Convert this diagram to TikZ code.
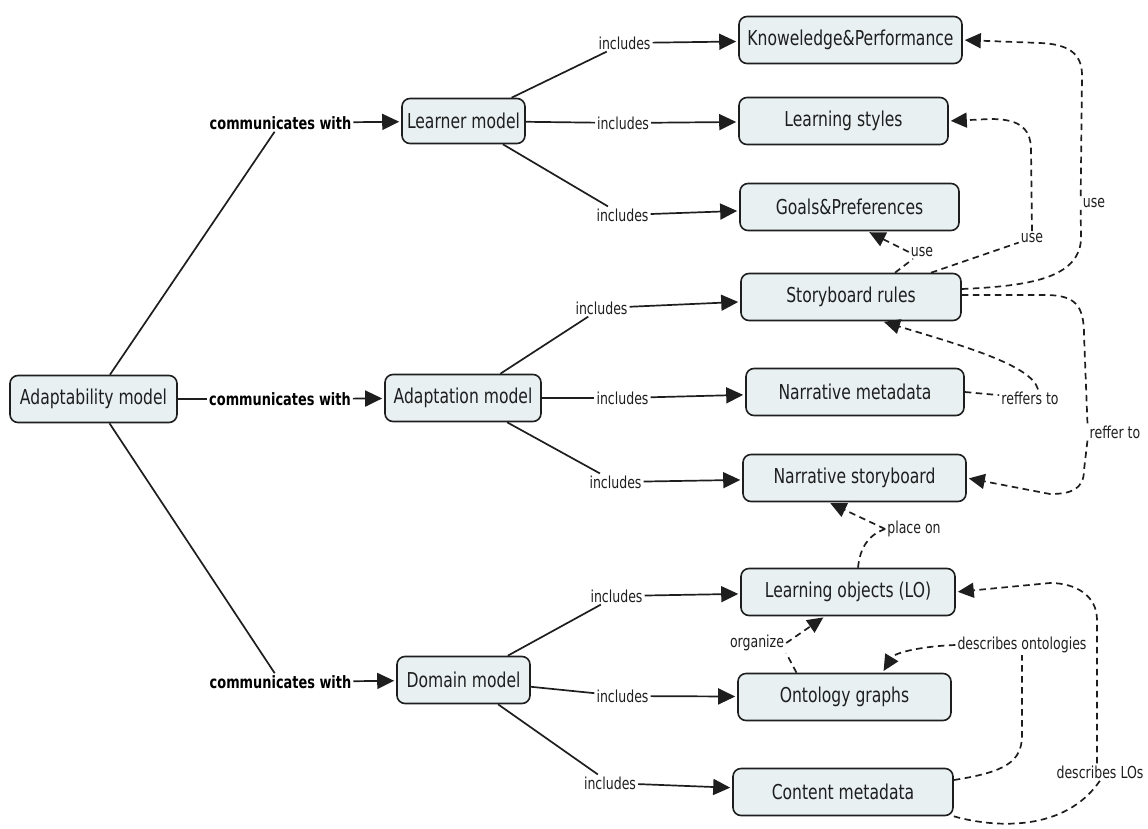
\documentclass[tikz,border=0pt]{standalone}
\usepackage{fontspec}
\setmainfont{DejaVu Sans}[FakeStretch=0.76]
\usetikzlibrary{arrows.meta}
\definecolor{boxfill}{RGB}{232,240,242}
\definecolor{ink}{RGB}{30,30,30}
\begin{document}
\begin{tikzpicture}[x=1pt,y=-1pt,
  box/.style={draw=ink, line width=1.6pt, rounded corners=8pt, fill=boxfill, minimum height=47pt, inner sep=0pt, font=\fontsize{20.5}{24}\selectfont, text=ink},
  lbl/.style={inner sep=2pt, font=\fontsize{16.5}{19}\selectfont, text=ink},
  blbl/.style={inner sep=2pt, font=\bfseries\fontsize{17}{20}\selectfont, text=black},
  ln/.style={draw=ink, line width=1.7pt},
  arr/.style={ln, shorten >=2pt, -{Triangle[length=17pt,width=16pt]}},
  dsh/.style={ln, dash pattern=on 6.5pt off 4.5pt},
  darr/.style={dsh, shorten >=2pt, -{Triangle[length=16pt,width=15pt]}}]
\useasboundingbox (0,0) rectangle (1148,828);

% concepts
\node[box, minimum width=167pt] (adm) at (93.5,399) {Adaptability model};
\node[box, minimum width=123pt, minimum height=45pt] (lm) at (463.5,121) {Learner model};
\node[box, minimum width=156pt] (am) at (463,398) {Adaptation model};
\node[box, minimum width=133pt] (dm) at (463.5,680) {Domain model};
\node[box, minimum width=223pt] (kp) at (850.5,40) {Knoweledge\&Performance};
\node[box, minimum width=209pt] (ls) at (843.5,121) {Learning styles};
\node[box, minimum width=219pt] (gp) at (849.5,207) {Goals\&Preferences};
\node[box, minimum width=220pt] (sr) at (851,297) {Storyboard rules};
\node[box, minimum width=218pt] (nm) at (855,392) {Narrative metadata};
\node[box, minimum width=223pt] (ns) at (854.5,478) {Narrative storyboard};
\node[box, minimum width=214pt] (lo) at (848,592) {Learning objects (LO)};
\node[box, minimum width=213pt] (og) at (844.5,697) {Ontology graphs};
\node[box, minimum width=220pt] (cm) at (843,792) {Content metadata};

% linking phrases
\node[blbl] (c1) at (280.5,123) {communicates with};
\node[blbl] (c2) at (280,399) {communicates with};
\node[blbl] (c3) at (280.5,682) {communicates with};
\node[lbl] (i1) at (624.5,43) {includes};
\node[lbl] (i2) at (623,123) {includes};
\node[lbl] (i3) at (622.5,215) {includes};
\node[lbl] (i4) at (601.5,308) {includes};
\node[lbl] (i5) at (622.5,398) {includes};
\node[lbl] (i6) at (615.5,482) {includes};
\node[lbl] (i7) at (616.5,596) {includes};
\node[lbl] (i8) at (622.5,696) {includes};
\node[lbl] (i9) at (610,783) {includes};
\node[lbl] (u1) at (922,252) {use};
\node[lbl] (u2) at (1032,238) {use};
\node[lbl] (u3) at (1094,203) {use};
\node[lbl] (rf) at (1030,398) {reffers to};
\node[lbl] (rt) at (1115,432) {reffer to};
\node[lbl] (po) at (914,529) {place on};
\node[lbl] (org) at (757,643) {organize};
\node[lbl] (do) at (1022,645) {describes ontologies};
\node[lbl] (dl) at (1100,772) {describes LOs};

% solid links
\draw[ln] (adm) -- (c1);
\draw[ln] (adm) -- (c2);
\draw[ln] (adm) -- (c3);
\draw[arr] (c1) -- (lm);
\draw[arr] (c2) -- (am);
\draw[arr] (c3) -- (dm);
\draw[ln] (lm) -- (i1);
\draw[ln] (lm) -- (i2);
\draw[ln] (lm) -- (i3);
\draw[ln] (am) -- (i4);
\draw[ln] (am) -- (i5);
\draw[ln] (am) -- (i6);
\draw[ln] (dm) -- (i7);
\draw[ln] (dm) -- (i8);
\draw[ln] (dm) -- (i9);
\draw[arr] (i1) -- (kp);
\draw[arr] (i2) -- (ls);
\draw[arr] (i3) -- (gp);
\draw[arr] (i4) -- (sr);
\draw[arr] (i5) -- (nm);
\draw[arr] (i6) -- (ns);
\draw[arr] (i7) -- (lo);
\draw[arr] (i8) -- (og);
\draw[arr] (i9) -- (cm);

% dashed links
\draw[dsh] ([xshift=44pt]sr.north) -- (u1);
\draw[darr] (u1.west) -- ([xshift=18pt]gp.south);

\draw[dsh] ([xshift=80pt]sr.north) -- (u2);
\draw[darr] (u2.north) -- (1031,150) .. controls (1031,125) and (1015,119) .. (990,119) -- (ls.east);

\draw[dsh] ([yshift=8pt]sr.east) .. controls (1030,286) and (1078,278) .. (1081,240) -- (u3.south west);
\draw[darr] (u3.north west) -- (1082,75) .. controls (1082,52) and (1066,44) .. (1040,43) -- (kp.east);

\draw[dsh] ([yshift=2pt]sr.east) -- (1045,295) .. controls (1075,295) and (1084,305) .. (1084,335) -- (rt.north west);
\draw[darr] (rt.south west) -- (1084,470) .. controls (1084,490) and (1070,494) .. (1050,494) -- (ns.east);

\draw[dsh] (nm.east) -- (rf);
\draw[darr] ([xshift=8pt]rf.north) .. controls (1032,365) and (960,345) .. ([xshift=31pt]sr.south);

\draw[dsh] ([xshift=10pt]lo.north) .. controls (860,548) and (868,535) .. (po.west);
\draw[darr] (po.west) -- ([xshift=-26pt]ns.south);

\draw[dsh] ([xshift=-48pt]og.north) -- (org.south east);
\draw[darr] (org.east) -- ([xshift=-23pt]lo.south);

\draw[dsh] ([yshift=12pt]cm.east) .. controls (1005,772) and (1022,762) .. (1022,735) -- (do.south);
\draw[darr] (do.west) .. controls (925,646) and (895,652) .. ([xshift=38pt]og.north);

\draw[dsh] (cm.south east) .. controls (995,828) and (1065,832) .. (dl.south);
\draw[darr] ([xshift=-3pt]dl.north) -- (1097,620) .. controls (1097,595) and (1075,583) .. (1050,583) -- (lo.east);
\end{tikzpicture}
\end{document}
